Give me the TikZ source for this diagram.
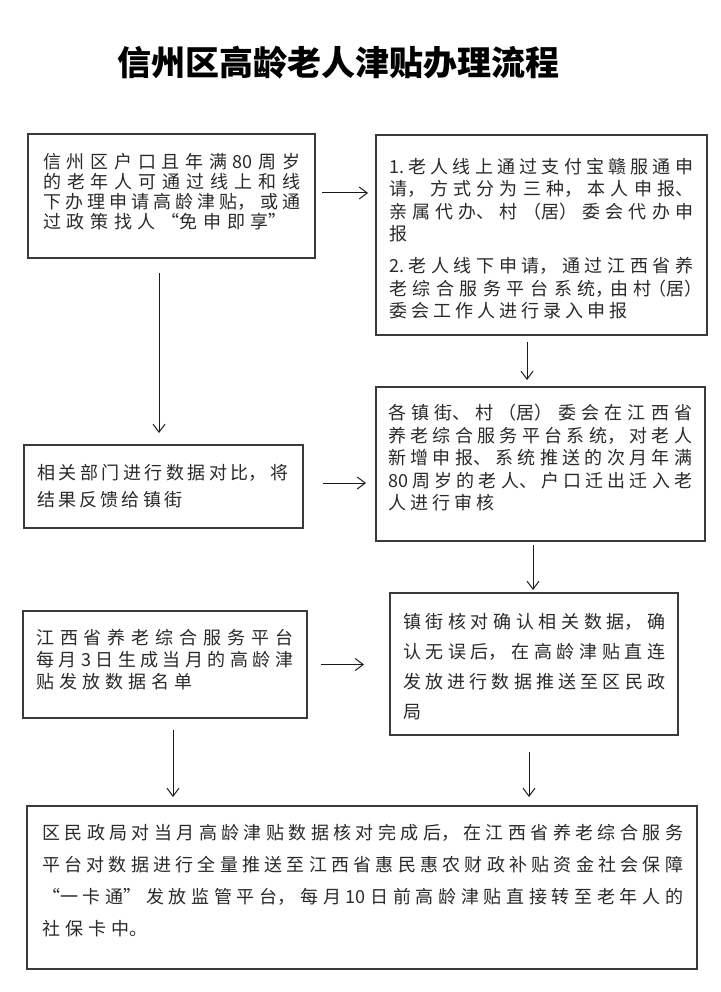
\documentclass[tikz,border=0pt]{standalone}
\usepackage{fontspec}
\setmainfont{Noto Sans CJK SC}
\usetikzlibrary{arrows.meta,calc}
\XeTeXlinebreaklocale "zh"
\XeTeXlinebreakskip=0pt plus 12pt
\tolerance=10000 \hbadness=10000 \hfuzz=4pt
\definecolor{boxc}{HTML}{3A3A3A}
\definecolor{txtc}{HTML}{2A2A2A}
\definecolor{arrc}{HTML}{1A1A1A}
\newcommand{\halfp}[1]{{\addfontfeatures{RawFeature=+halt}#1}}
\tikzset{
  box/.style={draw=boxc, line width=1.2pt, anchor=north west, inner sep=0pt, outer sep=0pt},
  txt/.style n args={2}{anchor=north west, inner sep=0pt, align=justify, text=txtc,
              font=\fontsize{18}{#1}\selectfont,
              execute at begin node={\XeTeXlinebreakskip=#2pt plus 4pt minus 2pt\relax}},
  arr/.style={-{Straight Barb[length=8pt,width=12pt]}, line width=1pt, draw=arrc}
}
\begin{document}
\begin{tikzpicture}[x=1pt,y=-1pt]
\useasboundingbox[fill=white] (0,0) rectangle (720,992);
% title
\node[font=\fontsize{34}{40}\selectfont\bfseries, text=black] (title) at (338,63) {信州区高龄老人津贴办理流程};
% boxes
\node[box, minimum width=287pt, minimum height=124pt] (A) at (28,134) {};
\node[box, minimum width=331pt, minimum height=200pt] (B) at (376,135) {};
\node[box, minimum width=329pt, minimum height=154pt] (C) at (376,387) {};
\node[box, minimum width=279pt, minimum height=83pt]  (D) at (24,445) {};
\node[box, minimum width=284pt, minimum height=107pt] (E) at (23,611) {};
\node[box, minimum width=288pt, minimum height=142pt] (F) at (390,593) {};
\node[box, minimum width=670pt, minimum height=163pt] (G) at (27,806) {};
% texts
\node[txt={20}{5.7}, text width=257pt] (tA) at (43,153) {信州区户口且年满80周岁\linebreak
的老年人可通过线上和线\linebreak
下办理申请高龄津贴，或通\linebreak
过政策找人“免申即享”};
\node[txt={22.5}{4}, text width=304pt] (tB) at (389,158) {1.老人线上通过支付宝赣服通申\linebreak
请，方式分为三种，本人申报、\linebreak
亲属代办、村（居）委会代办申\linebreak
报\par\vspace{9.5pt}
2.老人线下申请，通过江西省养\linebreak
\halfp{老综合服务平台系统，由村（居）}\linebreak
委会工作人进行录入申报};
\node[txt={22.5}{4}, text width=304pt] (tC) at (388,404) {各镇街、村（居）委会在江西省\linebreak
养老综合服务平台系统，对老人\linebreak
新增申报、系统推送的次月年满\linebreak
80周岁的老人、户口迁出迁入老\linebreak
人进行审核};
\node[txt={27}{3.2}, text width=251pt] (tD) at (37,464) {相关部门进行数据对比，将\linebreak
结果反馈给镇街};
\node[txt={22}{5}, text width=257pt] (tE) at (36,629) {江西省养老综合服务平台\linebreak
每月3日生成当月的高龄津\linebreak
贴发放数据名单};
\node[txt={30}{4.2}, text width=262pt] (tF) at (403,613) {镇街核对确认相关数据，确\linebreak
认无误后，在高龄津贴直连\linebreak
发放进行数据推送至区民政\linebreak
局};
\node[txt={32}{5.1}, text width=641pt] (tG) at (42,824) {区民政局对当月高龄津贴数据核对完成后，在江西省养老综合服务\linebreak
平台对数据进行全量推送至江西省惠民惠农财政补贴资金社会保障\linebreak
“一卡通”发放监管平台，每月10日前高龄津贴直接转至老年人的\linebreak
社保卡中。};
% connectors
\draw[arr] ($(A.east)+(7,-3)$) -- ($(B.west |- A.east)+(-8,-3)$);
\draw[arr] ($(A.south)+(-12.5,15)$) -- ($(D.north -| A.south)+(-12.5,-12)$);
\draw[arr] ($(B.south)+(-14.5,7)$) -- ($(C.north -| B.south)+(-14.5,-7)$);
\draw[arr] ($(D.east)+(20,-3.5)$) -- ($(C.west |- D.east)+(-10,-3.5)$);
\draw[arr] ($(C.south)+(-7.5,4)$) -- ($(F.north -| C.south)+(-7.5,-3)$);
\draw[arr] ($(E.east)+(14,0)$) -- ($(F.west |- E.east)+(-26,0)$);
\draw[arr] ($(E.south)+(8,12)$) -- ($(G.north -| E.south)+(8,-9)$);
\draw[arr] ($(F.south)+(-5,17)$) -- ($(G.north -| F.south)+(-5,-9)$);
\end{tikzpicture}
\end{document}
